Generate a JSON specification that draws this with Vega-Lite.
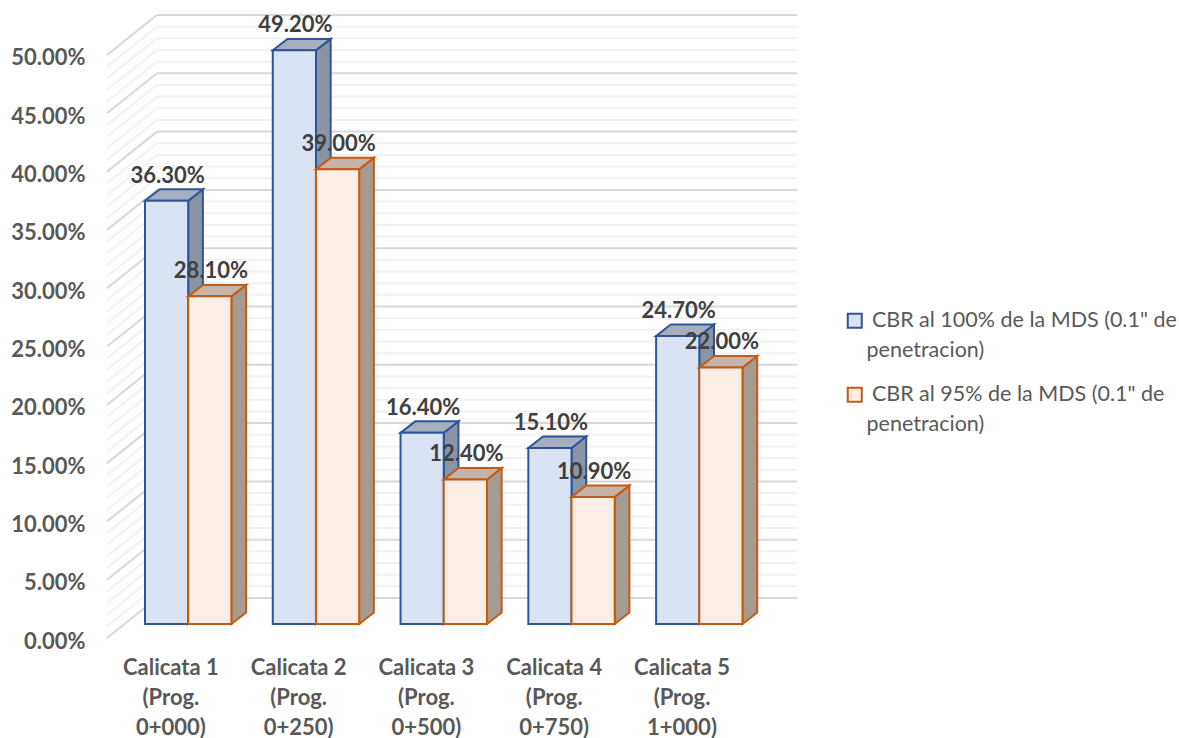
{
  "$schema": "https://vega.github.io/schema/vega-lite/v6.json",
  "width": 690,
  "height": 623,
  "autosize": "none",
  "padding": {"left": 107, "top": 15, "right": 382, "bottom": 100},
  "background": "white",
  "config": {"view": {"stroke": null}},
  "datasets": {
    "ensayos": [
      {"calicata": "Calicata 1 (Prog. 0+000)", "serie": "CBR al 100% de la MDS (0.1\" de penetracion)", "cbr": 0.363},
      {"calicata": "Calicata 2 (Prog. 0+250)", "serie": "CBR al 100% de la MDS (0.1\" de penetracion)", "cbr": 0.492},
      {"calicata": "Calicata 3 (Prog. 0+500)", "serie": "CBR al 100% de la MDS (0.1\" de penetracion)", "cbr": 0.164},
      {"calicata": "Calicata 4 (Prog. 0+750)", "serie": "CBR al 100% de la MDS (0.1\" de penetracion)", "cbr": 0.151},
      {"calicata": "Calicata 5 (Prog. 1+000)", "serie": "CBR al 100% de la MDS (0.1\" de penetracion)", "cbr": 0.247},
      {"calicata": "Calicata 1 (Prog. 0+000)", "serie": "CBR al 95% de la MDS (0.1\" de penetracion)", "cbr": 0.281},
      {"calicata": "Calicata 2 (Prog. 0+250)", "serie": "CBR al 95% de la MDS (0.1\" de penetracion)", "cbr": 0.39},
      {"calicata": "Calicata 3 (Prog. 0+500)", "serie": "CBR al 95% de la MDS (0.1\" de penetracion)", "cbr": 0.124},
      {"calicata": "Calicata 4 (Prog. 0+750)", "serie": "CBR al 95% de la MDS (0.1\" de penetracion)", "cbr": 0.109},
      {"calicata": "Calicata 5 (Prog. 1+000)", "serie": "CBR al 95% de la MDS (0.1\" de penetracion)", "cbr": 0.22}
    ],
    "rejilla": [
      {"nivel": 0},{"nivel": 0.01},{"nivel": 0.02},{"nivel": 0.03},{"nivel": 0.04},{"nivel": 0.05},
      {"nivel": 0.06},{"nivel": 0.07},{"nivel": 0.08},{"nivel": 0.09},{"nivel": 0.1},
      {"nivel": 0.11},{"nivel": 0.12},{"nivel": 0.13},{"nivel": 0.14},{"nivel": 0.15},
      {"nivel": 0.16},{"nivel": 0.17},{"nivel": 0.18},{"nivel": 0.19},{"nivel": 0.2},
      {"nivel": 0.21},{"nivel": 0.22},{"nivel": 0.23},{"nivel": 0.24},{"nivel": 0.25},
      {"nivel": 0.26},{"nivel": 0.27},{"nivel": 0.28},{"nivel": 0.29},{"nivel": 0.3},
      {"nivel": 0.31},{"nivel": 0.32},{"nivel": 0.33},{"nivel": 0.34},{"nivel": 0.35},
      {"nivel": 0.36},{"nivel": 0.37},{"nivel": 0.38},{"nivel": 0.39},{"nivel": 0.4},
      {"nivel": 0.41},{"nivel": 0.42},{"nivel": 0.43},{"nivel": 0.44},{"nivel": 0.45},
      {"nivel": 0.46},{"nivel": 0.47},{"nivel": 0.48},{"nivel": 0.49},{"nivel": 0.5}
    ]
  },
  "resolve": {"scale": {"x": "independent"}},
  "layer": [
    {
      "layer": [
        {
          "data": {"name": "rejilla"},
          "transform": [
            {"calculate": "datum.nivel + 0.0343", "as": "fondo"},
            {"calculate": "round(datum.nivel * 100) % 5 === 0", "as": "mayor"}
          ],
          "layer": [
            {
              "transform": [{"filter": "!datum.mayor"}],
              "layer": [
                {
                  "mark": {"type": "rule", "color": "#F2F2F2", "strokeWidth": 2},
                  "encoding": {
                    "x": {"datum": 0, "type": "quantitative", "scale": {"domain": [0, 5.4], "nice": false, "zero": false}, "axis": null},
                    "x2": {"datum": 0.391},
                    "y": {
                      "field": "nivel", "type": "quantitative",
                      "scale": {"domain": [0, 0.5343], "nice": false, "zero": false},
                      "axis": {
                        "title": null, "values": [0, 0.05, 0.1, 0.15, 0.2, 0.25, 0.3, 0.35, 0.4, 0.45, 0.5],
                        "format": ".2%", "domain": false, "ticks": false, "grid": false,
                        "labelFont": "Lato", "labelFontSize": 22, "labelFontWeight": "bold", "labelColor": "#595959",
                        "labelPadding": 22, "labelOffset": 3
                      }
                    },
                    "y2": {"field": "fondo"}
                  }
                },
                {
                  "mark": {"type": "rule", "color": "#F2F2F2", "strokeWidth": 2},
                  "encoding": {
                    "x": {"datum": 0.391, "type": "quantitative"},
                    "x2": {"datum": 5.4},
                    "y": {"field": "fondo", "type": "quantitative"}
                  }
                }
              ]
            },
            {
              "transform": [{"filter": "datum.mayor"}],
              "layer": [
                {
                  "mark": {"type": "rule", "color": "#D9D9D9", "strokeWidth": 2},
                  "encoding": {
                    "x": {"datum": 0, "type": "quantitative"},
                    "x2": {"datum": 0.391},
                    "y": {"field": "nivel", "type": "quantitative"},
                    "y2": {"field": "fondo"}
                  }
                },
                {
                  "mark": {"type": "rule", "color": "#D9D9D9", "strokeWidth": 2},
                  "encoding": {
                    "x": {"datum": 0.391, "type": "quantitative"},
                    "x2": {"datum": 5.4},
                    "y": {"field": "fondo", "type": "quantitative"}
                  }
                }
              ]
            }
          ]
        },
        {
          "data": {"name": "ensayos"},
          "transform": [
            {"calculate": "toNumber(substring(datum.calicata, 9, 10)) - 1", "as": "sitio"},
            {"calculate": "indexof(datum.serie, '100%') >= 0", "as": "es100"},
            {"calculate": "datum.sitio + 0.2974 + (datum.es100 ? 0 : 0.338)", "as": "x0"},
            {"calculate": "datum.x0 + 0.338", "as": "x1"},
            {"calculate": "datum.x0 + 0.169", "as": "xm"},
            {"calculate": "0.012", "as": "base"},
            {"calculate": "datum.cbr + 0.012", "as": "techo"},
            {"calculate": "[0, 1, 2, 3]", "as": "esq"},
            {"flatten": ["esq"]},
            {"calculate": "datum.x1 + min(datum.esq, 1) * 0.115", "as": "ladoX"},
            {"calculate": "datum.base + min(datum.esq, 1) * 0.0098", "as": "ladoY"},
            {"calculate": "datum.techo + min(datum.esq, 1) * 0.0098", "as": "ladoY2"},
            {"calculate": "[datum.x0, datum.x0 + 0.115, datum.x1, datum.x1 + 0.115][datum.esq]", "as": "topeX"},
            {"calculate": "datum.techo + (datum.esq === 3 ? 0.0098 : 0)", "as": "topeY"},
            {"calculate": "datum.techo + (datum.esq === 0 ? 0 : 0.0098)", "as": "topeY2"}
          ],
          "layer": [
            {
              "transform": [{"filter": "datum.es100"}],
              "layer": [
                {
                  "mark": {"type": "area", "fill": "#8A94A5", "stroke": "#2F5597", "strokeWidth": 2, "opacity": 1},
                  "encoding": {
                    "detail": {"field": "calicata"},
                    "x": {"field": "ladoX", "type": "quantitative"},
                    "y": {"field": "ladoY", "type": "quantitative", "stack": null},
                    "y2": {"field": "ladoY2"}
                  }
                },
                {
                  "mark": {"type": "area", "fill": "#A5AFBF", "stroke": "#2F5597", "strokeWidth": 2, "opacity": 1},
                  "encoding": {
                    "detail": {"field": "calicata"},
                    "x": {"field": "topeX", "type": "quantitative"},
                    "y": {"field": "topeY", "type": "quantitative", "stack": null},
                    "y2": {"field": "topeY2"}
                  }
                },
                {
                  "transform": [{"filter": "datum.esq === 0"}],
                  "mark": {"type": "rect", "strokeWidth": 2, "opacity": 1},
                  "encoding": {
                    "x": {"field": "x0", "type": "quantitative"},
                    "x2": {"field": "x1"},
                    "y": {"field": "base", "type": "quantitative"},
                    "y2": {"field": "techo"},
                    "fill": {
                      "field": "serie", "type": "nominal",
                      "scale": {"domain": ["CBR al 100% de la MDS (0.1\" de penetracion)", "CBR al 95% de la MDS (0.1\" de penetracion)"], "range": ["#DAE3F3", "#FDEEE5"]},
                      "legend": {
                        "orient": "none", "legendX": 737, "legendY": 295, "title": null,
                        "symbolType": "square", "symbolSize": 196, "symbolStrokeWidth": 2, "symbolOpacity": 1,
                        "labelFont": "Lato", "labelFontSize": 21.5, "labelColor": "#595959", "labelLimit": 400,
                        "labelExpr": "['\u200b\u2005' + slice(datum.label, 0, indexof(datum.label, ' penetracion')), 'penetracion)']",
                        "labelOffset": 1, "rowPadding": 21,
                        "encoding": {"labels": {"lineHeight": {"value": 30}}}
                      }
                    },
                    "stroke": {
                      "field": "serie", "type": "nominal",
                      "scale": {"domain": ["CBR al 100% de la MDS (0.1\" de penetracion)", "CBR al 95% de la MDS (0.1\" de penetracion)"], "range": ["#2F5597", "#C55A11"]},
                      "legend": {
                        "orient": "none", "legendX": 737, "legendY": 295, "title": null,
                        "symbolType": "square", "symbolSize": 196, "symbolStrokeWidth": 2, "symbolOpacity": 1,
                        "labelFont": "Lato", "labelFontSize": 21.5, "labelColor": "#595959", "labelLimit": 400,
                        "labelExpr": "['\u200b\u2005' + slice(datum.label, 0, indexof(datum.label, ' penetracion')), 'penetracion)']",
                        "labelOffset": 1, "rowPadding": 21,
                        "encoding": {"labels": {"lineHeight": {"value": 30}}}
                      }
                    }
                  }
                }
              ]
            },
            {
              "transform": [{"filter": "!datum.es100"}],
              "layer": [
                {
                  "mark": {"type": "area", "fill": "#A69B93", "stroke": "#C55A11", "strokeWidth": 2, "opacity": 1},
                  "encoding": {
                    "detail": {"field": "calicata"},
                    "x": {"field": "ladoX", "type": "quantitative"},
                    "y": {"field": "ladoY", "type": "quantitative", "stack": null},
                    "y2": {"field": "ladoY2"}
                  }
                },
                {
                  "mark": {"type": "area", "fill": "#C4B5A8", "stroke": "#C55A11", "strokeWidth": 2, "opacity": 1},
                  "encoding": {
                    "detail": {"field": "calicata"},
                    "x": {"field": "topeX", "type": "quantitative"},
                    "y": {"field": "topeY", "type": "quantitative", "stack": null},
                    "y2": {"field": "topeY2"}
                  }
                },
                {
                  "transform": [{"filter": "datum.esq === 0"}],
                  "mark": {"type": "rect", "strokeWidth": 2, "opacity": 1},
                  "encoding": {
                    "x": {"field": "x0", "type": "quantitative"},
                    "x2": {"field": "x1"},
                    "y": {"field": "base", "type": "quantitative"},
                    "y2": {"field": "techo"},
                    "fill": {"field": "serie", "type": "nominal"},
                    "stroke": {"field": "serie", "type": "nominal"}
                  }
                }
              ]
            },
            {
              "transform": [{"filter": "datum.esq === 0"}],
              "mark": {"type": "text", "font": "Lato", "fontSize": 22, "fontWeight": "bold", "color": "#404040", "dy": -25, "dx": 1},
              "encoding": {
                "x": {"field": "xm", "type": "quantitative"},
                "y": {"field": "techo", "type": "quantitative"},
                "text": {"field": "cbr", "type": "quantitative", "format": ".2%"}
              }
            }
          ]
        }
      ]
    },
    {
      "data": {"name": "ensayos"},
      "mark": {"type": "rule", "opacity": 0},
      "encoding": {
        "x": {
          "field": "calicata", "type": "nominal", "sort": null,
          "scale": {"type": "band", "paddingInner": 0, "paddingOuter": 0.2, "align": 0},
          "axis": {
            "orient": "bottom",
            "title": null, "domain": false, "ticks": false, "grid": false, "labelAngle": 0,
            "labelFont": "Lato", "labelFontSize": 22, "labelFontWeight": "bold", "labelColor": "#595959",
            "labelPadding": 19, "labelLineHeight": 30, "labelLimit": 200,
            "labelExpr": "[slice(datum.label, 0, 10), '(Prog.', slice(datum.label, 18)]"
          }
        }
      }
    }
  ]
}
